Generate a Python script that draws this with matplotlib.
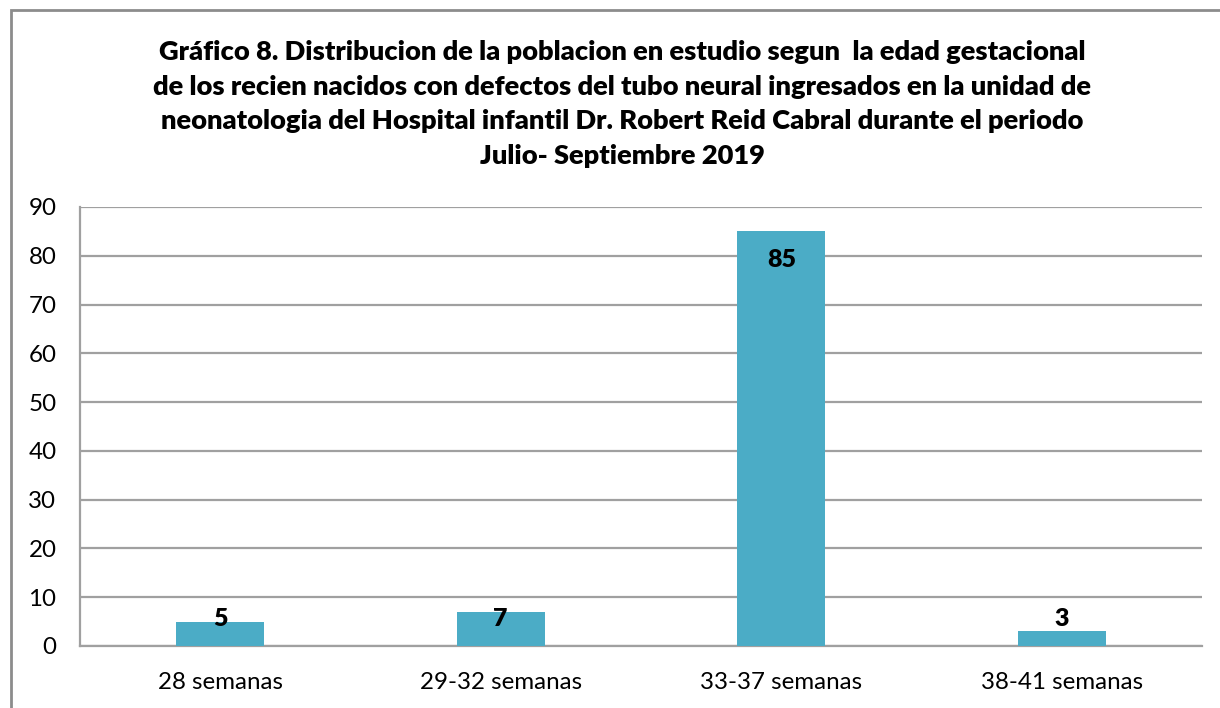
import matplotlib
matplotlib.use("Agg")
import matplotlib.pyplot as plt
from matplotlib.patches import Rectangle

categories = ["28 semanas", "29-32 semanas", "33-37 semanas", "38-41 semanas"]
values = [5, 7, 85, 3]
yticks = [0, 10, 20, 30, 40, 50, 60, 70, 80, 90]
title = ("Gráfico 8. Distribucion de la poblacion en estudio segun  la edad gestacional\n"
         "de los recien nacidos con defectos del tubo neural ingresados en la unidad de\n"
         "neonatologia del Hospital infantil Dr. Robert Reid Cabral durante el periodo\n"
         "Julio- Septiembre 2019")

plt.rcParams['font.family'] = ['Lato', 'DejaVu Sans']

W, H = 1220, 708
fig = plt.figure(figsize=(W / 100, H / 100), dpi=100)
ax = fig.add_axes([80 / W, 1 - 646 / H, (1202 - 80) / W, (646 - 207) / H])

x = list(range(len(categories)))
ax.bar(x, values, width=0.314, color="#4BACC6", zorder=3)
ax.set_xlim(-0.5, len(categories) - 0.5)
ax.set_ylim(0, 90)
ax.set_yticks(yticks)
ax.set_xticks(x)
ax.set_xticklabels(categories, fontsize=17.4)
ax.tick_params(axis='y', labelsize=17.4, length=0, pad=17)
ax.tick_params(axis='x', length=0, pad=19)
ax.grid(axis='y', color="#A0A0A0", linewidth=1.6, zorder=0)
for s in ['top', 'right']:
    ax.spines[s].set_visible(False)
for s in ['left', 'bottom']:
    ax.spines[s].set_color("#A0A0A0")
    ax.spines[s].set_linewidth(1.6)

for xi, v in zip(x, values):
    ax.text(xi, max(v - 5.9, 5.5), str(v), ha='center', va='center',
            fontsize=18, fontweight='heavy', color='black', zorder=4)

fig.text(622 / W, 1 - 104 / H, title, ha='center', va='center', fontsize=19.6,
         fontweight='heavy', linespacing=1.54)

fig.patches.append(Rectangle((11 / W, -0.1), 1.2, 1 - 10 / H + 0.1, transform=fig.transFigure,
                             fill=False, edgecolor="#8C8C8C", linewidth=2))

fig.savefig("out.png", dpi=100)
